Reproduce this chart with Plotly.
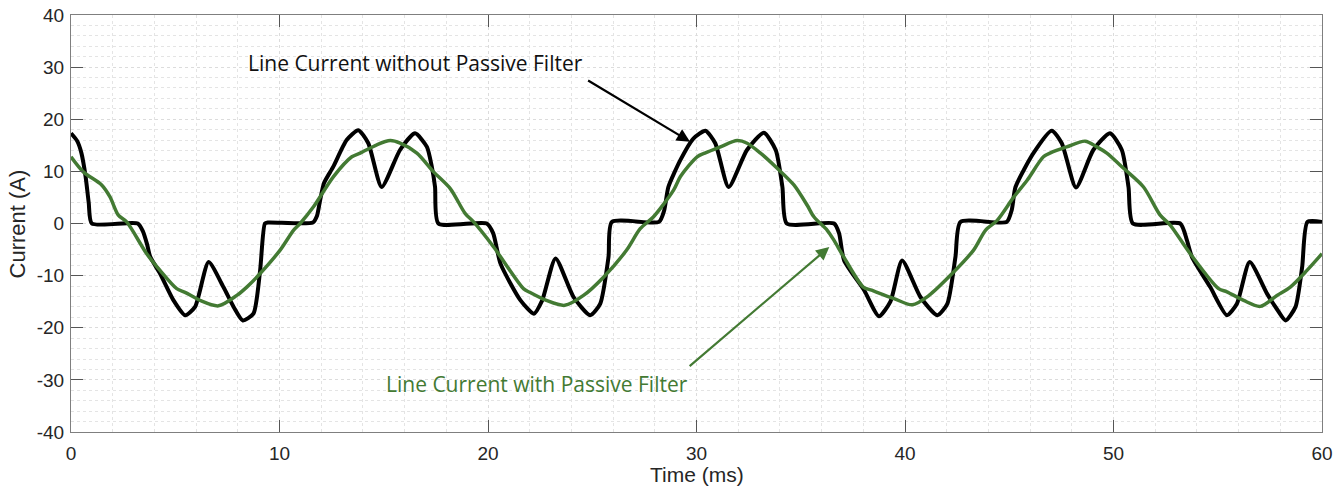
import plotly.graph_objects as go

# Line current without passive filter (black)
black_t = [0, 0.3, 0.5, 0.7, 0.85, 1.0, 3.2, 3.45, 3.65, 3.8, 4.27, 4.91, 5.47, 5.95, 6.6, 7.31, 7.8, 8.24, 8.75,
           9.07, 9.3, 9.45, 11.6, 11.8, 11.95, 12.14, 12.58, 13.22, 13.78, 14.26, 14.9, 15.78, 16.5, 17.07, 17.3,
           17.46, 17.62, 19.94, 20.25, 20.6, 21.56, 22.2, 22.6, 23.24, 24.1, 24.9, 25.38, 25.78, 25.94, 28.2,
           28.45, 28.65, 29.23, 29.85, 30.43, 30.9, 31.54, 32.42, 33.23, 33.8, 34.12, 34.33, 36.6, 36.84, 37.08,
           38.04, 38.75, 39.3, 39.86, 40.74, 41.55, 42.03, 42.42, 42.66, 44.88, 45.12, 45.3, 46.16, 47.04, 47.52,
           48.2, 49.03, 49.83, 50.4, 50.72, 50.93, 53.2, 53.52, 53.76, 54.64, 55.44, 55.92, 56.53, 57.37, 57.85,
           58.25, 58.73, 59.05, 59.3, 60]
black_i = [17.3, 15.8, 13.5, 9, 4, 0, 0, -1.5, -4, -6.4, -9.6, -14.7, -17.6, -16.0, -7.4, -12.2, -16.0, -18.6, -17.3,
           -9, 0, 0.2, 0.2, 1.5, 4.5, 7.8, 10.9, 16, 17.9, 15.4, 7.0, 14.1, 17.3, 14.7, 11,
           7, 0, 0, -1.9, -7.7, -14.75, -17.3, -14.75, -6.7, -14.1, -17.6, -15.4, -6.4, 0.3, 0.3,
           2.5, 7, 12.2, 16.3, 17.8, 15.4, 7.0, 14.1, 17.4, 14.1, 7, 0, 0, -1.9, -7.1,
           -12.8, -17.8, -15.0, -7.1, -14.1, -17.6, -15.4, -6.4, 0.3, 0.3, 2.6, 7, 13.5, 17.8, 15.4,
           6.9, 14.1, 17.3, 14.1, 7, 0, 0, -3.2, -6.4, -12.2, -17.6, -15.4, -7.4, -13.5, -16.5,
           -18.6, -16, -8.3, 0.3, 0.3]

# Line current with passive filter (green)
green_t = [0, 0.59, 1.47, 1.87, 2.27, 2.67, 3.63, 4.27, 5.07, 5.47, 6.19, 7.07, 7.95, 8.43, 9.07, 10.03, 10.67,
           10.99, 11.63, 12.59, 13.47, 13.87, 14.67, 15.31, 15.79, 16.59, 17.39, 18.19, 18.91, 19.31, 20.27,
           21.7, 22.0, 22.8, 23.68, 24.58, 25.54, 26.65, 27.3, 27.94, 28.9, 29.23, 30.03, 30.4, 31.15, 31.95,
           32.43, 33.07, 33.87, 34.67, 35.31, 35.63, 36.27, 36.59, 37.06, 38.0, 38.4, 39.47, 40.35, 41.15, 42.19,
           43.29, 43.86, 44.42, 45.22, 45.86, 46.64, 47.0, 47.76, 48.64, 49.2, 49.68, 50.48, 51.44, 52.24, 52.72,
           53.68, 55.04, 55.44, 56.24, 57.04, 57.84, 58.48, 59.28, 60]
green_i = [12.8, 9.9, 7.4, 5.1, 1.6, 0.3, -5.8, -9.0, -12.5, -13.2, -14.75, -15.8, -13.8, -12.2, -9.6, -5.1, -1.3,
           0, 3.2, 9.0, 12.8, 13.5, 15.1, 15.9, 15.4, 13.5, 9.9, 6.7, 1.9, 0.3, -4.5,
           -12.5, -13.2, -14.75, -15.7, -13.8, -10.3, -5.1, -1.0, 1.3, 6.4, 9.0, 12.8, 13.5, 14.7, 15.9,
           15.4, 13.5, 10.6, 7.4, 3.5, 1.3, -1.3, -3.2, -6.4, -12.2, -12.8, -14.4, -15.6, -13.8, -9.9,
           -5.1, -1.3, 0.6, 5.1, 8.3, 12.8, 13.6, 14.7, 15.8, 14.7, 13.5, 10.6, 7.0, 1.6, -0.3,
           -5.8, -12.5, -13.1, -14.75, -15.9, -13.8, -12.2, -9.0, -5.8]

x_ticks = [0, 10, 20, 30, 40, 50, 60]
y_ticks = [-40, -30, -20, -10, 0, 10, 20, 30, 40]

GREEN = "#437a33"
TXT = "#262626"
fig = go.Figure()
fig.add_trace(go.Scatter(x=black_t, y=black_i, mode="lines",
                         line=dict(color="black", width=4, shape="spline", smoothing=0.6),
                         name="Without filter", showlegend=False))
fig.add_trace(go.Scatter(x=green_t, y=green_i, mode="lines",
                         line=dict(color=GREEN, width=3.5, shape="spline", smoothing=0.8),
                         name="With filter", showlegend=False))

fig.add_annotation(x=29.69, y=15.7, ax=24.73, ay=27.6, xref="x", yref="y", axref="x", ayref="y",
                   text="", showarrow=True, arrowhead=2, arrowsize=1.2, arrowwidth=2.2, arrowcolor="black")
fig.add_annotation(x=24.65, y=30.8, xref="x", yref="y", text="Line Current without Passive Filter",
                   showarrow=False, xanchor="right", yanchor="middle",
                   font=dict(family="Open Sans", size=21, color="#111111"))
fig.add_annotation(x=36.37, y=-4.5, ax=29.6, ay=-27.6, xref="x", yref="y", axref="x", ayref="y",
                   text="", showarrow=True, arrowhead=2, arrowsize=1.2, arrowwidth=2.2, arrowcolor=GREEN)
fig.add_annotation(x=29.7, y=-30.7, xref="x", yref="y", text="Line Current with Passive Filter",
                   showarrow=False, xanchor="right", yanchor="middle",
                   font=dict(family="Open Sans", size=21, color=GREEN))

# axis titles
fig.add_annotation(x=0.5, y=-0.103, xref="paper", yref="paper", text="Time (ms)", showarrow=False,
                   xanchor="center", yanchor="middle",
                   font=dict(family="Liberation Sans, Arial", size=21, color=TXT))
fig.add_annotation(x=-0.0424, y=0.5, xref="paper", yref="paper", text="Current (A)", showarrow=False,
                   textangle=-90, xanchor="center", yanchor="middle",
                   font=dict(family="Liberation Sans, Arial", size=22, color=TXT))

axis_common = dict(showline=True, linecolor="#7f7f7f", linewidth=1, mirror="ticks",
                   ticks="inside", ticklen=12, tickwidth=1, tickcolor="#555555",
                   showgrid=True, gridcolor="#dcdcdc", griddash="dot", gridwidth=1,
                   zeroline=False, automargin=False,
                   tickfont=dict(family="Liberation Sans, Arial", size=19, color=TXT))

fig.update_xaxes(range=[0, 60], tickvals=x_ticks, ticktext=[str(v) for v in x_ticks], ticklabelstandoff=4,
                 minor=dict(dtick=2, showgrid=True, gridcolor="#e4e4e4", griddash="dot", ticks=""),
                 **axis_common)
fig.update_yaxes(range=[-40, 40], tickvals=y_ticks, ticktext=[str(v) for v in y_ticks], ticklabelstandoff=2,
                 minor=dict(dtick=2, showgrid=True, gridcolor="#e4e4e4", griddash="dot", ticks=""),
                 **axis_common)

fig.update_layout(width=1342, height=494, margin=dict(l=71, r=20, t=15, b=62),
                  plot_bgcolor="white", paper_bgcolor="white")

fig.write_html("out.html", config={"displayModeBar": False},
               post_script="document.body.style.margin='0';")
